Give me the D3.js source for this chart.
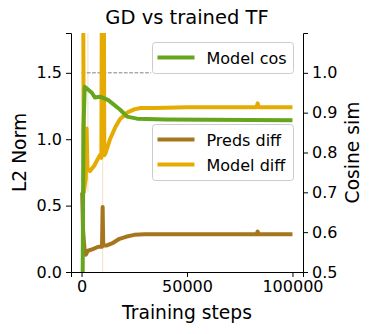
<!DOCTYPE html>
<html>
<head>
<meta charset="utf-8">
<script src="https://cdn.jsdelivr.net/npm/d3@7"></script>
<style>
  body { margin: 0; background: #fff; }
  text { font-family: "DejaVu Sans", sans-serif; fill: #000; }
</style>
</head>
<body>
<script>
// training steps vs values
const predsDiff = [
  [0, 0.6], [300, 0.6], [700, 0.32], [1500, 0.15], [2000, 0.13], [3000, 0.16],
  [5000, 0.17], [8000, 0.19], [9700, 0.19], [10000, 0.49], [10300, 0.2],
  [12000, 0.2], [15000, 0.22], [18000, 0.25], [21000, 0.265], [25000, 0.28],
  [30000, 0.285], [83000, 0.285], [83500, 0.305], [84000, 0.285], [100000, 0.285]
];
const modelDiff = [
  [0, 2.5], [700, 2.5], [1100, 0.6], [1500, 0.65], [2000, 0.7], [2400, 1.08],
  [2800, 0.78], [4000, 0.76], [6000, 0.8], [7000, 0.83], [8000, 0.86],
  [8700, 0.88], [9400, 0.86], [9700, 2.5], [10500, 2.5], [10800, 0.88],
  [11500, 0.9], [13500, 1.0], [16000, 1.09], [18200, 1.15], [21600, 1.2],
  [25000, 1.225], [28000, 1.235], [35000, 1.235], [50000, 1.24], [83000, 1.24],
  [83500, 1.27], [84000, 1.24], [100000, 1.24]
];
const modelCos = [
  [0, 0.45], [500, 0.45], [900, 0.86], [1500, 0.965], [4900, 0.95], [6300, 0.938],
  [8700, 0.94], [12500, 0.932], [18200, 0.908], [21600, 0.89], [26300, 0.885],
  [40000, 0.883], [100000, 0.881]
];
// faint raw traces visible behind the thick lines
const faintTraces = [
  [[10000, 0], [10000, 1.8]],
  [[3000, 0.6], [3000, 1.8]]
];
const refLine = [[0, 1.0], [33000, 1.0]]; // cosine = 1 guide

const xTicks = [0, 50000, 100000];
const leftTicks = [0, 0.5, 1.0, 1.5];
const rightTicks = [0.5, 0.6, 0.7, 0.8, 0.9, 1.0];

const colors = { preds: "#a6761d", model: "#e6ab02", cos: "#66a61e" };

const W = 373, H = 334;
const m = { left: 71, right: 70, top: 33, bottom: 62 };
const pw = W - m.left - m.right, ph = H - m.top - m.bottom;

const svg = d3.select("body").append("svg")
  .attr("width", W).attr("height", H);

const x = d3.scaleLinear().domain([-5000, 105000]).range([m.left, m.left + pw]);
const yL = d3.scaleLinear().domain([0, 1.8]).range([m.top + ph, m.top]);
const yR = d3.scaleLinear().domain([0.5, 1.1]).range([m.top + ph, m.top]);

svg.append("clipPath").attr("id", "clip")
  .append("rect").attr("x", m.left).attr("y", m.top).attr("width", pw).attr("height", ph);

const plot = svg.append("g").attr("clip-path", "url(#clip)");

const lineL = d3.line().x(d => x(d[0])).y(d => yL(d[1]));
const lineR = d3.line().x(d => x(d[0])).y(d => yR(d[1]));

faintTraces.forEach(t => {
  plot.append("path").attr("d", lineL(t))
    .attr("fill", "none").attr("stroke", "#e9d9b0").attr("stroke-opacity", 0.6).attr("stroke-width", 1.2);
});

plot.append("path").attr("d", lineR(refLine))
  .attr("fill", "none").attr("stroke", "#808080").attr("stroke-width", 1)
  .attr("stroke-dasharray", "3.7,1.6");

plot.append("path").attr("d", lineL(predsDiff))
  .attr("fill", "none").attr("stroke", colors.preds).attr("stroke-width", 4)
  .attr("stroke-linejoin", "round");
plot.append("path").attr("d", lineL(modelDiff))
  .attr("fill", "none").attr("stroke", colors.model).attr("stroke-width", 4)
  .attr("stroke-linejoin", "round");

// left axis legend (drawn under the twin axis)
function legend(items, x0, y0, w, h) {
  const g = svg.append("g");
  g.append("rect").attr("x", x0).attr("y", y0).attr("width", w).attr("height", h)
    .attr("rx", 3).attr("fill", "#fff").attr("fill-opacity", 0.8)
    .attr("stroke", "#cccccc").attr("stroke-width", 1);
  items.forEach((it, i) => {
    const yy = y0 + 15 + i * 25;
    g.append("line").attr("x1", x0 + 5).attr("x2", x0 + 42).attr("y1", yy).attr("y2", yy)
      .attr("stroke", it.color).attr("stroke-width", 4);
    g.append("text").attr("x", x0 + 54).attr("y", yy + 6).attr("font-size", 16).text(it.label);
  });
}
legend([{ label: "Preds diff", color: colors.preds }, { label: "Model diff", color: colors.model }],
  152.5, 124.5, 141, 56);

const plot2 = svg.append("g").attr("clip-path", "url(#clip)");
plot2.append("path").attr("d", lineR(modelCos))
  .attr("fill", "none").attr("stroke", colors.cos).attr("stroke-width", 4)
  .attr("stroke-linejoin", "round");

legend([{ label: "Model cos", color: colors.cos }], 152.5, 42.5, 141, 31);

// axes
const axB = svg.append("g").attr("transform", `translate(0,${m.top + ph})`)
  .call(d3.axisBottom(x).tickValues(xTicks).tickFormat(d3.format("d")).tickSizeOuter(0).tickSize(5).tickPadding(4));
const axL = svg.append("g").attr("transform", `translate(${m.left},0)`)
  .call(d3.axisLeft(yL).tickValues(leftTicks).tickFormat(d3.format(".1f")).tickSizeOuter(0).tickSize(5).tickPadding(4));
const axR = svg.append("g").attr("transform", `translate(${m.left + pw},0)`)
  .call(d3.axisRight(yR).tickValues(rightTicks).tickFormat(d3.format(".1f")).tickSizeOuter(0).tickSize(5).tickPadding(4));
[axB, axL, axR].forEach(a => {
  a.selectAll("text").attr("font-size", 16).attr("font-family", "DejaVu Sans, sans-serif");
  a.selectAll("path, line").attr("stroke", "#000").attr("stroke-width", 1);
});

svg.append("text").attr("x", m.left + pw / 2).attr("y", 24).attr("text-anchor", "middle")
  .attr("font-size", 19.5).text("GD vs trained TF");
svg.append("text").attr("x", m.left + pw / 2).attr("y", 319).attr("text-anchor", "middle")
  .attr("font-size", 18.7).text("Training steps");
svg.append("text").attr("transform", `translate(25.5,${m.top + ph / 2}) rotate(-90)`)
  .attr("text-anchor", "middle").attr("font-size", 18.7).text("L2 Norm");
svg.append("text").attr("transform", `translate(359,${m.top + ph / 2}) rotate(-90)`)
  .attr("text-anchor", "middle").attr("font-size", 18.7).text("Cosine sim");
</script>
</body>
</html>
